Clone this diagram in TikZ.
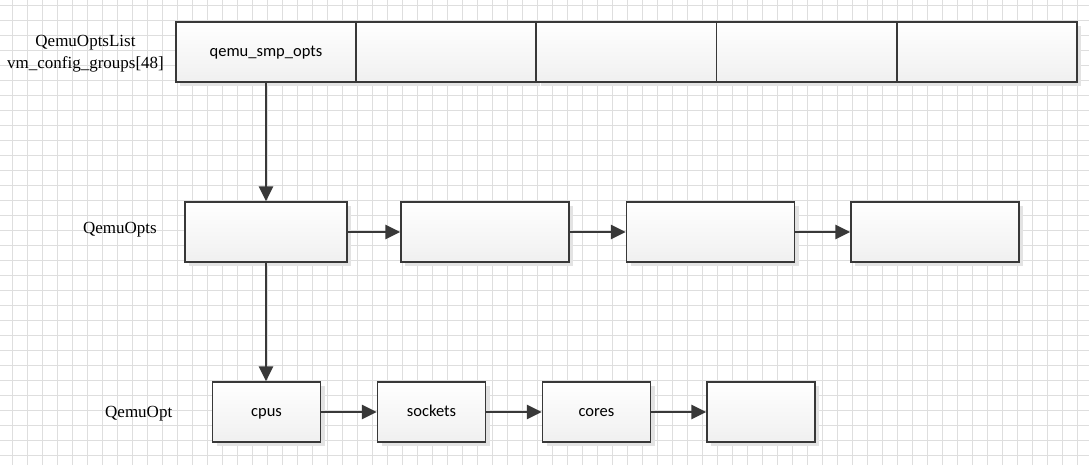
\documentclass[tikz,border=0pt]{standalone}
\usepackage{fontspec}
\setmainfont{Liberation Serif}
\newfontfamily\boxfont{Carlito}
\usetikzlibrary{arrows.meta,shadows}

\begin{document}
\begin{tikzpicture}[x=1pt,y=-1pt,
    gridline/.style={draw=black!13,line width=0.8pt},
    cell/.style={rectangle,draw=black!78,line width=1.3pt,inner sep=0pt,
      top color=white,bottom color=black!6,
      general shadow={fill=black!11,shadow xshift=4pt,shadow yshift=-4pt},
      text height=11.5pt,text depth=2pt,
      font=\boxfont\fontsize{16.5}{20}\selectfont},
    listcell/.style={cell,minimum width=180pt,minimum height=60pt},
    optscell/.style={cell,minimum width=168pt,minimum height=60pt},
    optcell/.style={cell,minimum width=108pt,minimum height=60pt},
    tag/.style={font=\fontsize{17}{21.6}\selectfont,align=center,inner sep=0pt},
    link/.style={draw=black!78,line width=2.5pt,-{Triangle[length=15pt,width=14pt]}}]
      \useasboundingbox (0,0) rectangle (1089,465);
      \fill[white] (0,0) rectangle (1089,465);
      % grid
      \foreach \gx in {0,...,71}
        \draw[gridline] (12+15*\gx,0) -- (12+15*\gx,465);
      \foreach \gy in {0,...,30}
        \draw[gridline] (0,5+15*\gy) -- (1089,5+15*\gy);
      % QemuOptsList
      \node[tag] (listTag) at (85.5,53.6) {QemuOptsList\\vm\_config\_groups[48]};
      \node[listcell] (list1) at (266,52) {qemu\_smp\_opts};
      \node[listcell] (list2) at (446,52) {};
      \node[listcell] (list3) at (626.5,52) {};
      \node[listcell] (list4) at (806.5,52) {};
      \node[listcell] (list5) at (987,52) {};
      % QemuOpts
      \node[tag,anchor=base] (optsTag) at (120,233.5) {QemuOpts};
      \node[optscell,minimum width=162pt] (opts1) at (266,232) {};
      \node[optscell] (opts2) at (485,232) {};
      \node[optscell] (opts3) at (710.5,232) {};
      \node[optscell] (opts4) at (935,232) {};
      % QemuOpt
      \node[tag,anchor=base] (optTag) at (138.7,417.5) {QemuOpt};
      \node[optcell] (opt1) at (266.5,412) {cpus};
      \node[optcell] (opt2) at (431.5,412) {sockets};
      \node[optcell] (opt3) at (596.5,412) {cores};
      \node[optcell] (opt4) at (761,412) {};
      % links
      \draw[link] (list1.south) -- (opts1.north);
      \draw[link] (opts1.south) -- (opt1.north -| opts1.south);
      \draw[link] (opts1) -- (opts2);
      \draw[link] (opts2) -- (opts3);
      \draw[link] (opts3) -- (opts4);
      \draw[link] (opt1) -- (opt2);
      \draw[link] (opt2) -- (opt3);
      \draw[link] (opt3) -- (opt4);
    \end{tikzpicture}
\end{document}
